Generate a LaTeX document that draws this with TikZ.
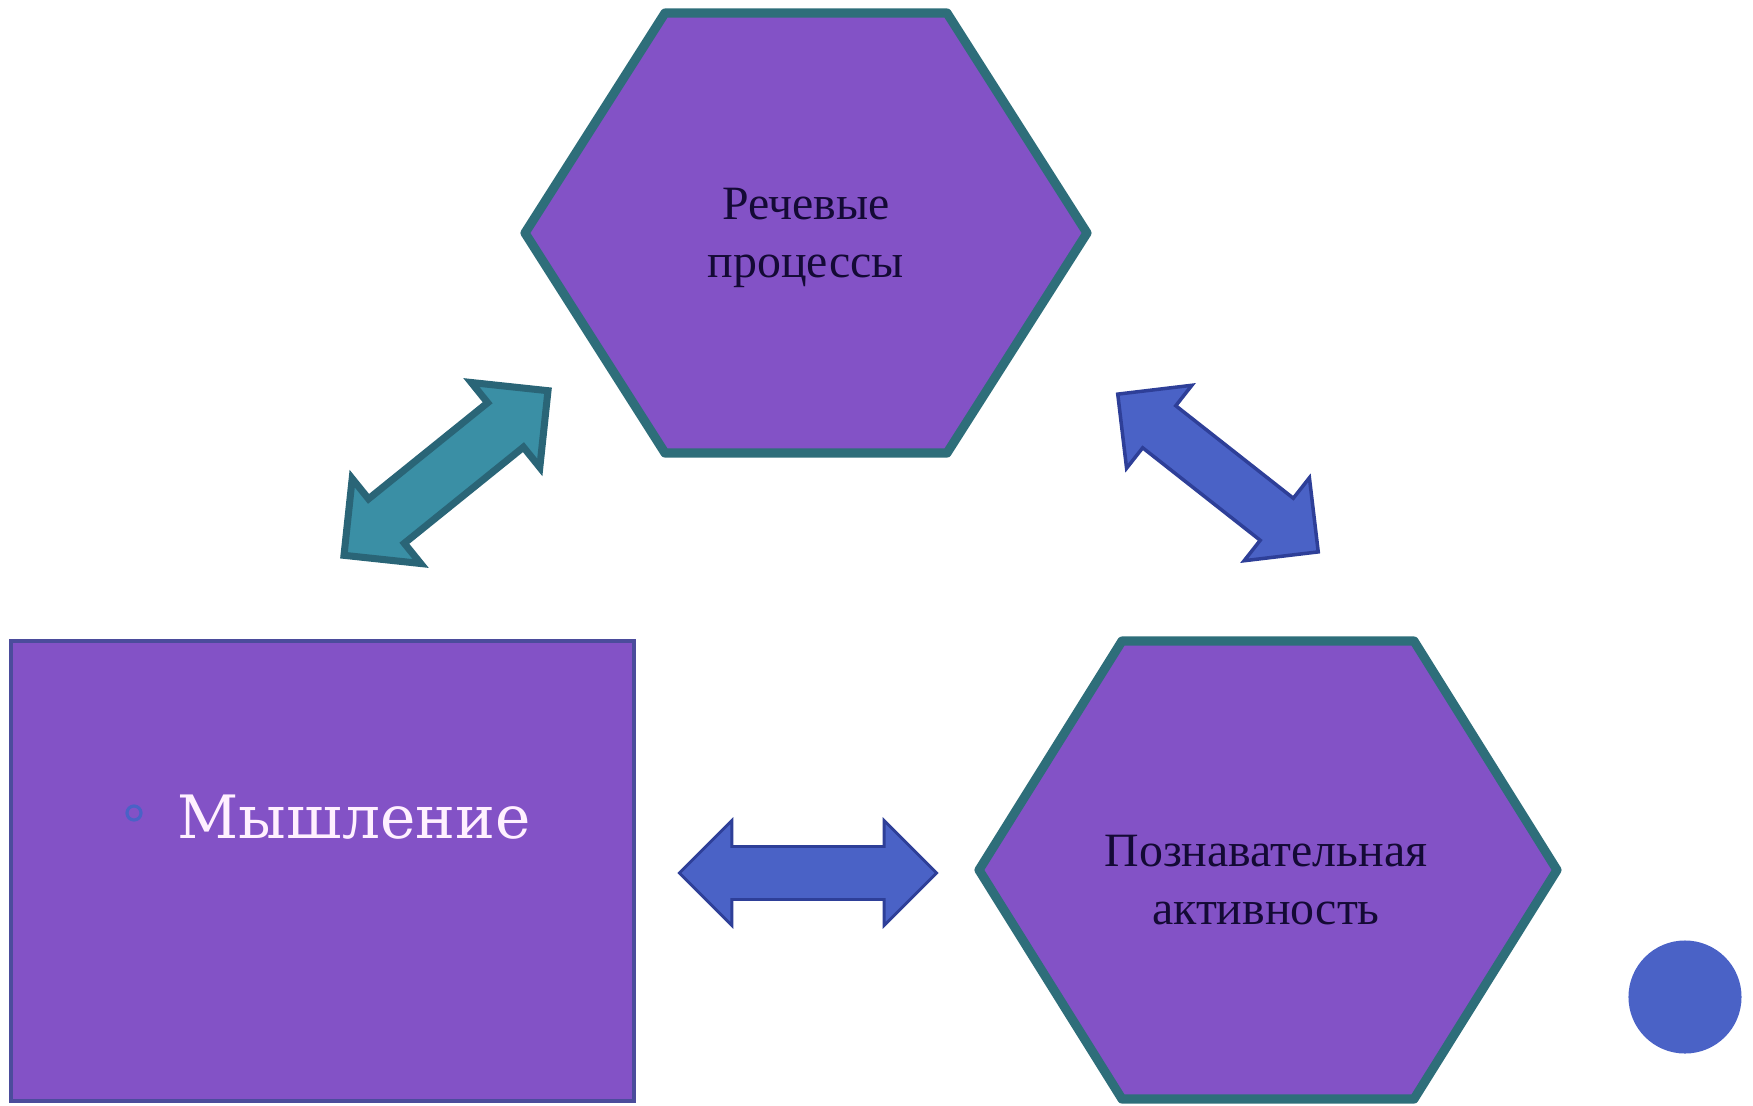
\documentclass[tikz,border=0pt]{standalone}
\usepackage{fontspec}
\setmainfont{Liberation Serif}
\newfontfamily\thinkfont{DejaVu Serif}
\usetikzlibrary{shapes.arrows}

\definecolor{hexfill}{HTML}{8352C6}
\definecolor{hexline}{HTML}{2E6E7A}
\definecolor{tealfill}{HTML}{3A8FA5}
\definecolor{tealline}{HTML}{2A6577}
\definecolor{bluefill}{HTML}{4A62C6}
\definecolor{blueline}{HTML}{2E3F98}
\definecolor{boxline}{HTML}{4B4C9C}
\definecolor{txtdark}{HTML}{140A35}
\definecolor{txtlight}{HTML}{FFF0FF}

\begin{document}
\begin{tikzpicture}
[x=0.01cm,y=-0.01cm,
hexa/.style={fill=hexfill,draw=hexline,line width=2.6pt,line join=round},
hextext/.style={text=txtdark,font=\fontsize{13.6}{16.5}\selectfont,align=center,inner sep=0pt},
darrow/.style={double arrow,inner xsep=0pt,inner ysep=0.25cm,minimum height=2.6cm,
  double arrow head extend=0.26cm,line join=miter},]

%Hexagon sizes
\def\hw{281}
\def\hh{220}
\def\ew{141}

\useasboundingbox (0,0) rectangle (1753,1105);

%Hexagons
\draw[hexa,shift={(806,233)}] (-\hw,0) -- (-\ew,-\hh) -- (\ew,-\hh) -- (\hw,0) -- (\ew,\hh) -- (-\ew,\hh) -- cycle;
\draw[hexa,shift={(1268,870)}] (-289,0) -- (-146,-229) -- (146,-229) -- (289,0) -- (146,229) -- (-146,229) -- cycle;

%Labeling boxes
\node (speech) at (806,238)[hextext] {Речевые\\процессы};
\node (cogn) at (1266,880)[hextext] {Познавательная\\активность};
\node (thinkbox) at (322.5,871)[fill=hexfill,draw=boxline,line width=1.1pt,minimum width=6.23cm,minimum height=4.6cm] {};
\node (think) at (177,838)[anchor=base west,inner sep=0pt,text=txtlight,font=\thinkfont\fontsize{17}{20}\selectfont] {Мышление};
\node (bullet) at (134,813)[circle,draw=bluefill,line width=0.9pt,minimum size=0.14cm,inner sep=0pt] {};

%Arrows between boxes
\node (arrL) at (446,473)[darrow,rotate=38.9,fill=tealfill,draw=tealline,line width=2pt,minimum height=2.62cm] {};
\node (arrR) at (1218,473)[darrow,rotate=-38.2,fill=bluefill,draw=blueline,line width=1pt,minimum height=2.55cm] {};
\node (arrB) at (808,873)[darrow,fill=bluefill,draw=blueline,line width=0.8pt,minimum height=2.57cm] {};

\node (dot) at (1685,997)[circle,fill=bluefill,minimum size=1.13cm,inner sep=0pt] {};
\end{tikzpicture}
\end{document}
